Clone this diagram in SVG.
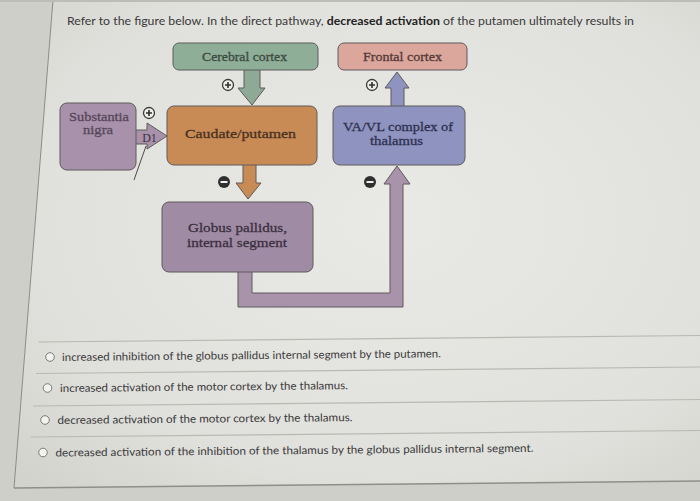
<svg xmlns="http://www.w3.org/2000/svg" width="700" height="501" viewBox="0 0 700 501">
<defs>
<radialGradient id="bg" cx="0.55" cy="0.45" r="0.75">
<stop offset="0" stop-color="#e9e9e5"/>
<stop offset="0.7" stop-color="#e0e0dc"/>
<stop offset="1" stop-color="#d3d3ce"/>
</radialGradient>
</defs>
<style>
.box{stroke:#5e5a5a;stroke-width:1}
.arr{stroke:#5e5a5a;stroke-width:1;stroke-linejoin:miter}
.lbl{font-family:"Liberation Serif","DejaVu Serif",serif;font-size:13px;text-anchor:middle;stroke-width:0.3;lengthAdjust:spacingAndGlyphs}
.opt{font-family:Lato,"Liberation Sans",sans-serif;font-size:11px;fill:#3a3a3a}
.rad{fill:#f2f2ef;stroke:#7a7a78;stroke-width:1}
.sep{stroke:#b9b9b4;stroke-width:1.2}
.plus{fill:#eeeeea;stroke:#3a3a3a;stroke-width:1.3}
.minus{fill:#2f2f2f}
</style>
<rect x="0" y="0" width="700" height="501" fill="#cfcfca"/>
<polygon points="53,0 700,0 700,481 14,488" fill="url(#bg)"/>
<line x1="53" y1="0" x2="14" y2="488" stroke="#8c8c88" stroke-width="1"/>
<rect x="0" y="0" width="700" height="2" fill="#bdbdb8"/>
<line x1="14" y1="488" x2="700" y2="481" stroke="#8e8e8a" stroke-width="1.5"/>
<text x="67" y="25" font-family="Lato,'Liberation Sans',sans-serif" font-size="11.3" fill="#3a3a3a" textLength="567" lengthAdjust="spacingAndGlyphs">Refer to the figure below. In the direct pathway, <tspan font-weight="bold" fill="#222">decreased activation</tspan> of the putamen ultimately results in</text>

<g id="connectors">
<polygon class="arr" fill="#8ea996" points="244,67 260,67 260,88 265,88 252,105 238,88 244,88"/>
<polygon class="arr" fill="#c98b56" points="243,162 256,162 256,183 261,183 248,199 236,183 243,183"/>
<polygon class="arr" fill="#8f93bf" points="391,109 404,109 404,88 409,88 397,72 385,88 391,88"/>
<polygon class="arr" fill="#a893ab" points="238,268 238,307 403,307 403,184 410,184 397,166 384,184 390,184 390,293 252,293 252,268"/>
<polygon class="arr" fill="#a891aa" points="133,130 147,130 147,123 167,136 147,149 147,144 133,144"/>
<line x1="146" y1="146" x2="134" y2="180" stroke="#4a4a4a" stroke-width="1"/>
</g>

<g id="cerebral-cortex">
<rect class="box" x="173" y="43" width="145" height="27" rx="6" fill="#8fae98"/>
<text class="lbl" x="244.5" y="60.5" fill="#3d4a42" stroke="#3d4a42" textLength="85" lengthAdjust="spacingAndGlyphs">Cerebral cortex</text>
</g>
<g id="frontal-cortex">
<rect class="box" x="338" y="43" width="129" height="27" rx="6" fill="#dba69c"/>
<text class="lbl" x="402.5" y="60.5" fill="#553a36" stroke="#553a36" textLength="79" lengthAdjust="spacingAndGlyphs">Frontal cortex</text>
</g>
<g id="substantia-nigra">
<rect class="box" x="60" y="103" width="76" height="67" rx="7" fill="#a891aa"/>
<text class="lbl" x="99" y="120.5" fill="#56485a" stroke="#56485a" textLength="60" lengthAdjust="spacingAndGlyphs">Substantia</text>
<text class="lbl" x="98" y="134" fill="#56485a" stroke="#56485a" textLength="30" lengthAdjust="spacingAndGlyphs">nigra</text>
</g>
<g id="caudate-putamen">
<rect class="box" x="167" y="106" width="150" height="59" rx="7" fill="#c98b56"/>
<text class="lbl" x="240.5" y="137.5" fill="#4a3222" stroke="#4a3222" textLength="111" lengthAdjust="spacingAndGlyphs">Caudate/putamen</text>
</g>
<g id="thalamus">
<rect class="box" x="333" y="106" width="132" height="59" rx="7" fill="#8f93bf"/>
<text class="lbl" x="398" y="131" fill="#2e3150" stroke="#2e3150" textLength="110" lengthAdjust="spacingAndGlyphs">VA/VL complex of</text>
<text class="lbl" x="396.5" y="144.5" fill="#2e3150" stroke="#2e3150" textLength="53" lengthAdjust="spacingAndGlyphs">thalamus</text>
</g>
<g id="globus-pallidus">
<rect class="box" x="162" y="202" width="151" height="70" rx="7" fill="#a08ba5"/>
<text class="lbl" x="237.5" y="232" fill="#3c3040" stroke="#3c3040" textLength="99" lengthAdjust="spacingAndGlyphs">Globus pallidus,</text>
<text class="lbl" x="237" y="246.5" fill="#3c3040" stroke="#3c3040" textLength="100" lengthAdjust="spacingAndGlyphs">internal segment</text>
</g>
<text x="149.5" y="141.5" font-family="'Liberation Serif','DejaVu Serif',serif" font-size="12" text-anchor="middle" fill="#3c3040">D1</text>

<g id="signs">
<circle class="plus" cx="228" cy="85" r="5.5"/><path d="M225,85h6M228,82v6" stroke="#2f2f2f" stroke-width="1.6"/>
<circle class="plus" cx="372" cy="85" r="5.5"/><path d="M369,85h6M372,82v6" stroke="#2f2f2f" stroke-width="1.6"/>
<circle class="plus" cx="149" cy="113" r="5.5"/><path d="M146,113h6M149,110v6" stroke="#2f2f2f" stroke-width="1.6"/>
<circle class="minus" cx="224" cy="182" r="6"/><path d="M220.5,182h7" stroke="#f0f0f0" stroke-width="2"/>
<circle class="minus" cx="370" cy="182" r="6"/><path d="M366.5,182h7" stroke="#f0f0f0" stroke-width="2"/>
</g>

<g id="options">
<line class="sep" x1="38" y1="342" x2="700" y2="335.5"/>
<line class="sep" x1="36" y1="373.5" x2="700" y2="367"/>
<line class="sep" x1="33" y1="406" x2="700" y2="399.5"/>
<line class="sep" x1="31" y1="437" x2="700" y2="430.5"/>
<circle class="rad" cx="50" cy="357" r="4.3"/>
<text class="opt" x="62" y="361" transform="rotate(-0.56 62 361)" textLength="379" lengthAdjust="spacingAndGlyphs">increased inhibition of the globus pallidus internal segment by the putamen.</text>
<circle class="rad" cx="47.5" cy="388" r="4.3"/>
<text class="opt" x="60" y="392" transform="rotate(-0.56 60 392)" textLength="288" lengthAdjust="spacingAndGlyphs">increased activation of the motor cortex by the thalamus.</text>
<circle class="rad" cx="45" cy="420" r="4.3"/>
<text class="opt" x="57.5" y="424" transform="rotate(-0.56 57.5 424)" textLength="295" lengthAdjust="spacingAndGlyphs">decreased activation of the motor cortex by the thalamus.</text>
<circle class="rad" cx="43" cy="452.5" r="4.3"/>
<text class="opt" x="55.5" y="456.5" transform="rotate(-0.56 55.5 456.5)" textLength="478" lengthAdjust="spacingAndGlyphs">decreased activation of the inhibition of the thalamus by the globus pallidus internal segment.</text>
</g>
</svg>
